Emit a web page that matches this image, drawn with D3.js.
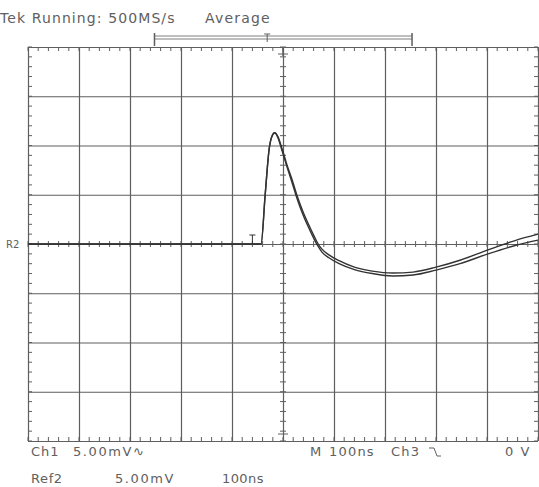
<!DOCTYPE html>
<html>
<head>
<meta charset="utf-8">
<script src="https://cdn.jsdelivr.net/npm/d3@7"></script>
<style>
  html, body { margin: 0; padding: 0; background: #fff; }
  svg { display: block; }
  text { font-family: "DejaVu Sans", sans-serif; fill: #606060; }
</style>
</head>
<body>
<div id="scope"></div>
<script>
// time in ns relative to screen centre, voltage in mV
const timeNs = [-500, -43, -35, -27, -22, -16, -10, -2, 8, 18, 27, 39, 50, 61, 69, 76, 90, 110, 140, 175, 215, 255, 300, 347, 402, 455, 500];
const ch1mV  = [0, 0, 4.97, 9.7, 10.9, 11.3, 10.9, 9.7, 8.0, 6.5, 5.0, 3.3, 2.0, 0.8, 0, -0.5, -1.1, -1.7, -2.35, -2.75, -2.95, -2.85, -2.35, -1.65, -0.6, 0.35, 1.0];
const ref2mV = [0, 0, 4.97, 9.7, 10.9, 11.3, 10.8, 9.5, 7.8, 6.2, 4.7, 3.0, 1.7, 0.5, -0.25, -0.8, -1.4, -2.0, -2.6, -3.0, -3.25, -3.15, -2.65, -2.0, -1.0, -0.15, 0.4];

const timeDivs = [-500, -400, -300, -200, -100, 0, 100, 200, 300, 400, 500];
const voltDivs = [-20, -15, -10, -5, 0, 5, 10, 15, 20];

const headerLabels = ["Tek Running: 500MS/s", "Average"];
const footerRow1 = ["Ch1", "5.00mV\u223F", "M", "100ns", "Ch3", "0 V"];
const footerRow2 = ["Ref2", "5.00mV", "100ns"];

const width = 539;
const height = 487;
const gridColor = "#5e5e5e";
const traceColor = "#333";

const svg = d3.select("#scope")
  .append("svg")
  .attr("width", width)
  .attr("height", height);

const xScale = d3.scaleLinear().domain([-500, 500]).range([28, 538]);
const yScale = d3.scaleLinear().domain([-20, 20]).range([441, 47]);

const gTop = yScale(20), gBot = yScale(-20), gLeft = xScale(-500), gRight = xScale(500);
const midX = xScale(0), midY = yScale(0);

// major graticule lines
const grid = svg.append("g");
grid.append("g")
  .attr("transform", `translate(0, ${gBot})`)
  .call(d3.axisBottom(xScale).tickValues(timeDivs).tickSize(-(gBot - gTop)).tickFormat(""))
  .call(g => g.select(".domain").remove());
grid.append("g")
  .attr("transform", `translate(${gLeft}, 0)`)
  .call(d3.axisLeft(yScale).tickValues(voltDivs).tickSize(-(gRight - gLeft)).tickFormat(""))
  .call(g => g.select(".domain").remove());
grid.selectAll("line").attr("stroke", gridColor).attr("stroke-width", 1.2);

// minor ticks, 5 per division, on centre lines and border
const minorT = d3.range(-500, 501, 20);
const minorV = d3.range(-20, 20.01, 1);
const minor = svg.append("g").attr("stroke", gridColor).attr("stroke-width", 1);

function hTicks(yPos, y0, y1) {
  minor.selectAll(null).data(minorT).enter().append("line")
    .attr("x1", d => xScale(d)).attr("x2", d => xScale(d))
    .attr("y1", yPos + y0).attr("y2", yPos + y1);
}
function vTicks(xPos, x0, x1) {
  minor.selectAll(null).data(minorV).enter().append("line")
    .attr("y1", d => yScale(d)).attr("y2", d => yScale(d))
    .attr("x1", xPos + x0).attr("x2", xPos + x1);
}
hTicks(midY, -3, 3);
vTicks(midX, -3, 3);
hTicks(gTop, 0, 4);
hTicks(gBot, -4, 0);
vTicks(gLeft, 0, 4);
vTicks(gRight, -4, 0);

// centre cross marks on top / bottom border
minor.append("line").attr("x1", midX).attr("x2", midX).attr("y1", gTop).attr("y2", gTop + 9).attr("stroke-width", 1.5);
minor.append("line").attr("x1", midX - 5).attr("x2", midX + 5).attr("y1", gTop + 7).attr("y2", gTop + 7);
minor.append("line").attr("x1", midX - 5).attr("x2", midX + 5).attr("y1", gBot - 7).attr("y2", gBot - 7);

// traces
const line = d3.line()
  .x(d => xScale(d[0]))
  .y(d => yScale(d[1]))
  .curve(d3.curveMonotoneX);

[ref2mV, ch1mV].forEach(series => {
  svg.append("path")
    .datum(timeNs.map((t, i) => [t, series[i]]))
    .attr("fill", "none")
    .attr("stroke", traceColor)
    .attr("stroke-width", 1.4)
    .attr("d", line);
});

// trigger position mark near baseline
svg.append("path")
  .attr("d", `M${xScale(-60) - 3},${midY - 9}h6M${xScale(-60)},${midY - 9}v9`)
  .attr("stroke", traceColor).attr("fill", "none");

// record-window bracket at top
const bx0 = xScale(-252), bx1 = xScale(253), bxT = xScale(-31);
const bracket = svg.append("g").attr("stroke", gridColor).attr("fill", "none");
bracket.append("path").attr("d", `M${bx0},33V46M${bx1},33V46`).attr("stroke-width", 1.5);
bracket.append("path").attr("d", `M${bx0},36H${bx1}M${bx0},39H${bx1}`).attr("stroke-width", 0.8);
bracket.append("path").attr("d", `M${bxT - 3},34H${bxT + 3}M${bxT},34V42`);

// header text
svg.append("text").attr("x", 0).attr("y", 23).attr("font-size", 14).attr("letter-spacing", 1.1).text(headerLabels[0]);
svg.append("text").attr("x", 205).attr("y", 23).attr("font-size", 14).attr("letter-spacing", 1.2).text(headerLabels[1]);

// reference marker on the left
svg.append("text").attr("x", 6).attr("y", midY + 4).attr("font-size", 10).text("R2");

// footer text
const fs = 13;
const foot = (x, y, s, ls) => svg.append("text")
  .attr("x", x).attr("y", y).attr("font-size", fs).attr("letter-spacing", ls).text(s);

foot(31, 456, footerRow1[0], 1);
foot(73, 456, footerRow1[1], 1.6);
foot(310, 456, footerRow1[2], 0);
foot(329, 456, footerRow1[3], 1.2);
foot(391, 456, footerRow1[4], 1.2);
svg.append("path")
  .attr("d", "M429,448h5l3,8h4")
  .attr("stroke", "#606060").attr("fill", "none");
foot(505, 456, footerRow1[5], 1.5);

foot(31, 483, footerRow2[0], 0.6);
foot(115, 483, footerRow2[1], 1.6);
foot(222, 483, footerRow2[2], 0.4);
</script>
</body>
</html>
